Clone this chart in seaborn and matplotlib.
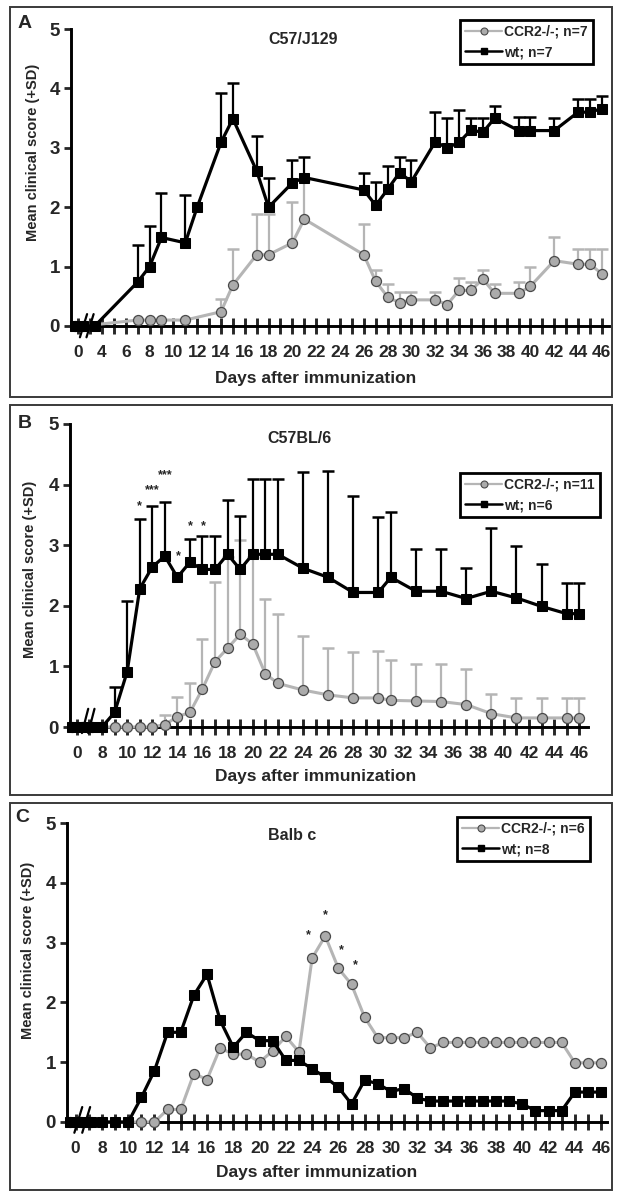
import numpy as np
import pandas as pd
import matplotlib
matplotlib.use("Agg")
import matplotlib.pyplot as plt
from matplotlib.lines import Line2D
from matplotlib.patches import Rectangle
import seaborn as sns

nan = np.nan

# ---- panel A: C57/J129 (days before the axis break sit at 1.7-3.4) ----
A_WT_DAY = [1.7, 2.4, 3.4, 7, 8, 9, 11, 12, 14, 15, 17, 18, 20, 21, 26, 27, 28, 29, 30,
            32, 33, 34, 35, 36, 37, 39, 40, 42, 44, 45, 46]
A_WT = [0, 0, 0, 0.74, 1.0, 1.49, 1.40, 2.0, 3.09, 3.49, 2.61, 2.0, 2.41, 2.5, 2.29, 2.03,
        2.3, 2.58, 2.43, 3.1, 3.0, 3.09, 3.3, 3.26, 3.5, 3.29, 3.29, 3.29, 3.6, 3.6, 3.66]
A_WT_SD = [nan, nan, nan, 0.62, 0.68, 0.75, 0.8, nan, 0.83, 0.6, 0.59, 0.5, 0.39, 0.35,
           0.29, 0.4, 0.4, 0.27, 0.37, 0.5, 0.5, 0.55, 0.2, 0.24, 0.2, 0.23, 0.23, 0.21,
           0.22, 0.22, 0.21]
A_KO_DAY = [1.7, 2.4, 7, 8, 9, 11, 14, 15, 17, 18, 20, 21, 26, 27, 28, 29, 30, 32, 33, 34,
            35, 36, 37, 39, 40, 42, 44, 45, 46]
A_KO = [0, 0, 0.1, 0.1, 0.1, 0.1, 0.24, 0.69, 1.2, 1.2, 1.4, 1.8, 1.2, 0.75, 0.49, 0.39,
        0.44, 0.44, 0.36, 0.6, 0.6, 0.79, 0.55, 0.55, 0.67, 1.1, 1.04, 1.04, 0.88]
A_KO_SD = [nan, nan, nan, nan, nan, nan, 0.22, 0.6, 0.68, 0.68, 0.69, 0.65, 0.51, 0.2,
           0.21, 0.18, 0.13, 0.13, nan, 0.2, 0.14, 0.16, 0.16, 0.19, 0.33, 0.39, 0.26,
           0.26, 0.41]

# ---- panel B: C57BL/6 ----
B_DAY = [5.6, 6.4, 7.2, 8, 9, 10, 11, 12, 13, 14, 15, 16, 17, 18, 19, 20, 21, 22, 24, 26,
         28, 30, 31, 33, 35, 37, 39, 41, 43, 45, 46]
B_WT = [0, 0, 0, 0, 0.24, 0.91, 2.28, 2.64, 2.82, 2.47, 2.72, 2.6, 2.6, 2.85, 2.6, 2.85,
        2.85, 2.85, 2.62, 2.47, 2.22, 2.22, 2.47, 2.24, 2.24, 2.12, 2.24, 2.13, 1.99,
        1.87, 1.87]
B_WT_SD = [nan, nan, nan, nan, 0.42, 1.17, 1.15, 1.0, 0.9, nan, 0.38, 0.55, 0.55, 0.89,
           0.88, 1.25, 1.25, 1.25, 1.58, 1.76, 1.6, 1.25, 1.07, 0.69, 0.69, 0.5, 1.05,
           0.85, 0.7, 0.5, 0.5]
B_KO = [0, 0, 0, 0, 0, 0, 0, 0, 0.04, 0.17, 0.24, 0.63, 1.08, 1.3, 1.53, 1.37, 0.88, 0.72,
        0.61, 0.53, 0.48, 0.48, 0.44, 0.43, 0.42, 0.37, 0.22, 0.15, 0.15, 0.15, 0.15]
B_KO_SD = [nan, nan, nan, nan, nan, nan, nan, nan, 0.15, 0.33, 0.49, 0.82, 1.32, 1.5,
           1.55, 1.43, 1.24, 1.15, 0.89, 0.78, 0.75, 0.78, 0.67, 0.61, 0.62, 0.58, 0.33,
           0.33, 0.33, 0.33, 0.33]
B_STAR_X = [11, 12, 13, 14.05, 15, 16.1]
B_STAR_Y = [3.65, 3.9, 4.15, 2.82, 3.32, 3.32]
B_STAR_TXT = ["*", "***", "***", "*", "*", "*"]

# ---- panel C: Balb c ----
C_DAY = [5.6, 6.4, 7.2, 8, 9, 10] + list(range(11, 47))
C_WT = [0, 0, 0, 0, 0, 0, 0.41, 0.86, 1.5, 1.5, 2.12, 2.47, 1.7, 1.25, 1.5, 1.36, 1.36,
        1.03, 1.03, 0.89, 0.75, 0.58, 0.3, 0.7, 0.64, 0.51, 0.56, 0.4, 0.35, 0.35, 0.35,
        0.35, 0.35, 0.35, 0.35, 0.3, 0.19, 0.19, 0.19, 0.5, 0.5, 0.5]
C_KO = [0, 0, 0, 0, 0, 0, 0, 0, 0.21, 0.21, 0.81, 0.71, 1.24, 1.13, 1.14, 1.0, 1.19,
        1.43, 1.17, 2.74, 3.11, 2.57, 2.3, 1.75, 1.41, 1.41, 1.41, 1.5, 1.24, 1.33, 1.33,
        1.33, 1.33, 1.33, 1.33, 1.33, 1.33, 1.33, 1.33, 0.99, 0.99, 0.99]
C_STAR_X = [23.7, 25, 26.2, 27.3]
C_STAR_Y = [3.12, 3.46, 2.88, 2.63]

W, H = 620, 1199
GRAY_LINE = "#b5b5b5"
GRAY_FACE = "#ababab"
GRAY_EDGE = "#4a4a4a"

sns.set_theme(style="ticks")
plt.rcParams["font.family"] = ["Liberation Sans", "DejaVu Sans"]
plt.rcParams["font.weight"] = "bold"

fig = plt.figure(figsize=(W / 100, H / 100), dpi=100)


def px_rect(left, top, right, bottom):
    return [left / W, 1 - bottom / H, (right - left) / W, (bottom - top) / H]


def upper_bars(ax, days, mean, sd, color, z):
    d = pd.DataFrame({"day": days, "mean": mean, "sd": sd}).dropna()
    top = d["mean"] + d["sd"]
    ax.vlines(d["day"], d["mean"], top, color=color, lw=1.6, zorder=z, clip_on=False)
    ax.plot(d["day"], top, ls="none", marker="_", ms=9, mew=1.8, color=color,
            zorder=z, clip_on=False)


def series(ax, days, vals, kind, z):
    df = pd.DataFrame({"day": days, "score": vals})
    if kind == "ko":
        sns.lineplot(data=df, x="day", y="score", ax=ax, color=GRAY_LINE, lw=2.2,
                     marker="o", ms=7.2, markerfacecolor=GRAY_FACE,
                     markeredgecolor=GRAY_EDGE, markeredgewidth=0.9,
                     zorder=z, clip_on=False, legend=False, errorbar=None)
    else:
        sns.lineplot(data=df, x="day", y="score", ax=ax, color="black", lw=2.3,
                     marker="s", ms=7.2, markerfacecolor="black",
                     markeredgecolor="black", zorder=z, clip_on=False,
                     legend=False, errorbar=None)


def setup_axis(ax, xlim, zero_pos, first_tick, slashes):
    ax.set_xlim(*xlim)
    ax.set_ylim(0, 5)
    ticks = [zero_pos] + list(range(first_tick, 47))
    labels = ["0"] + [str(d) if d % 2 == 0 else "" for d in range(first_tick, 47)]
    ax.set_xticks(ticks)
    ax.set_xticklabels(labels)
    ax.set_yticks(range(6))
    ax.tick_params(axis="x", direction="inout", length=12, width=2.1, pad=8,
                   labelsize=12.5)
    ax.tick_params(axis="y", direction="out", length=5, width=2.0, pad=3,
                   labelsize=13.5)
    for s in ("top", "right"):
        ax.spines[s].set_visible(False)
    for s in ("left", "bottom"):
        ax.spines[s].set_linewidth(2.1)
        ax.spines[s].set_color("black")
    ax.set_xlabel("")
    ax.set_ylabel("")
    for x0, x1, y0, y1 in slashes:
        ax.plot([x0, x1], [y0, y1], color="black", lw=1.6, clip_on=False, zorder=6)
    ax.set_facecolor("none")


def legend(labels, anchor):
    handles = [
        Line2D([], [], color=GRAY_LINE, lw=1.6, marker="o", ms=5,
               markerfacecolor=GRAY_FACE, markeredgecolor=GRAY_EDGE, markeredgewidth=0.8),
        Line2D([], [], color="black", lw=1.8, marker="s", ms=5),
    ]
    leg = fig.legend(handles, labels, loc="upper left",
                     bbox_to_anchor=(anchor[0] / W, 1 - anchor[1] / H),
                     bbox_transform=fig.transFigure, frameon=True, fancybox=False,
                     edgecolor="black", framealpha=1, borderpad=0.35,
                     handlelength=2.7, handletextpad=0.15, labelspacing=0.45,
                     borderaxespad=0, prop={"weight": "bold", "size": 10})
    leg.get_frame().set_linewidth(2.0)
    return leg


ylabel_font = {"weight": "bold", "size": 10.5}
title_font = {"weight": "bold", "size": 11.5}
letter_font = {"weight": "bold", "size": 14}

# panel frames
for top, bottom in [(7, 397), (405, 795), (803, 1190)]:
    fig.add_artist(Rectangle((10 / W, 1 - bottom / H), 602 / W, (bottom - top) / H,
                             transform=fig.transFigure, fill=False, lw=1.4,
                             ec="#3a3a3a"))

# ---------------- A ----------------
axA = fig.add_axes(px_rect(71, 29, 609, 326))
upper_bars(axA, A_KO_DAY, A_KO, A_KO_SD, GRAY_LINE, 2)
series(axA, A_KO_DAY, A_KO, "ko", 3)
upper_bars(axA, A_WT_DAY, A_WT, A_WT_SD, "black", 4)
series(axA, A_WT_DAY, A_WT, "wt", 5)
setup_axis(axA, (1.4, 46.6), 2, 3,
           [(2.15, 2.75, -0.19, 0.2), (2.7, 3.3, -0.19, 0.2)])
axA.set_ylabel("Mean clinical score (+SD)", fontdict=ylabel_font)
axA.yaxis.set_label_coords(-0.058, 0.585)
fig.text(316 / W, 1 - 378 / H, "Days after immunization", ha="center", va="center",
         fontsize=12.5, weight="bold")
fig.text(303 / W, 1 - 40 / H, "C57/J129", ha="center", va="center", fontdict=title_font)
fig.text(25 / W, 1 - 23 / H, "A", ha="center", va="center", fontdict=letter_font)
legend(["CCR2-/-; n=7", "wt; n=7"], (460, 20))

# ---------------- B ----------------
axB = fig.add_axes(px_rect(70, 424, 588, 727))
upper_bars(axB, B_DAY, B_KO, B_KO_SD, GRAY_LINE, 2)
series(axB, B_DAY, B_KO, "ko", 3)
upper_bars(axB, B_DAY, B_WT, B_WT_SD, "black", 4)
series(axB, B_DAY, B_WT, "wt", 5)
setup_axis(axB, (5.45, 46.7), 6, 7,
           [(6.4, 6.9, -0.1, 0.3), (6.9, 7.4, -0.1, 0.3)])
for x, y, t in zip(B_STAR_X, B_STAR_Y, B_STAR_TXT):
    axB.text(x, y, t, ha="center", va="center", fontsize=9, weight="bold", zorder=7)
axB.set_ylabel("Mean clinical score (+SD)", fontdict=ylabel_font)
axB.yaxis.set_label_coords(-0.064, 0.52)
fig.text(316 / W, 1 - 777 / H, "Days after immunization", ha="center", va="center",
         fontsize=12.5, weight="bold")
fig.text(300 / W, 1 - 438 / H, "C57BL/6", ha="center", va="center", fontdict=title_font)
fig.text(25 / W, 1 - 423 / H, "B", ha="center", va="center", fontdict=letter_font)
legend(["CCR2-/-; n=11", "wt; n=6"], (460, 473))

# ---------------- C ----------------
axC = fig.add_axes(px_rect(67, 823, 607, 1122))
series(axC, C_DAY, C_KO, "ko", 3)
series(axC, C_DAY, C_WT, "wt", 5)
setup_axis(axC, (5.34, 46.45), 6, 7,
           [(5.9, 6.5, -0.18, 0.25), (6.5, 7.1, -0.18, 0.25)])
for x, y in zip(C_STAR_X, C_STAR_Y):
    axC.text(x, y, "*", ha="center", va="center", fontsize=9, weight="bold", zorder=7)
axC.set_ylabel("Mean clinical score (+SD)", fontdict=ylabel_font)
axC.yaxis.set_label_coords(-0.059, 0.575)
fig.text(317 / W, 1 - 1173 / H, "Days after immunization", ha="center", va="center",
         fontsize=12.5, weight="bold")
fig.text(292 / W, 1 - 835 / H, "Balb c", ha="center", va="center", fontdict=title_font)
fig.text(22 / W, 1 - 817 / H, "C", ha="center", va="center", fontdict=letter_font)
legend(["CCR2-/-; n=6", "wt; n=8"], (457, 817))

fig.savefig("out.png", dpi=100)
